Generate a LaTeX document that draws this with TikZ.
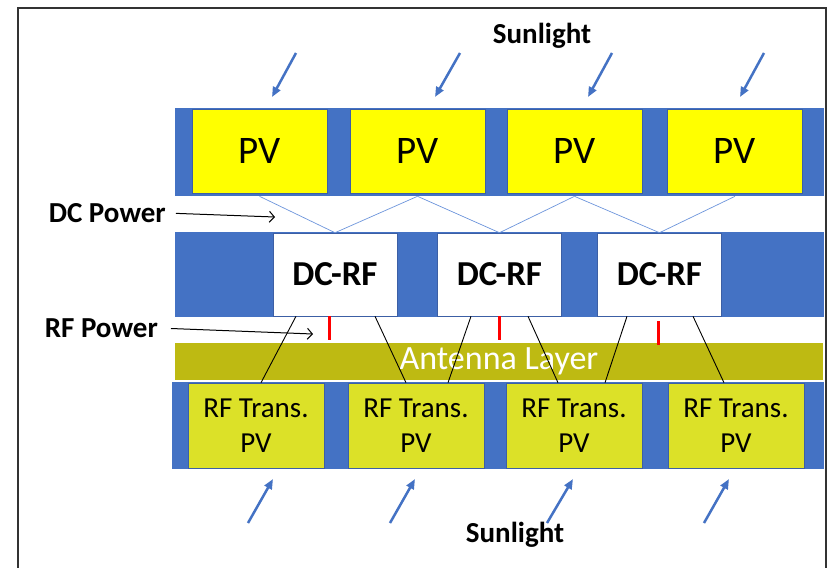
\documentclass[tikz,border=0pt]{standalone}
\usepackage{fontspec}
\setmainfont{Carlito}
\usetikzlibrary{arrows.meta,positioning,calc}
\definecolor{panelblue}{RGB}{68,114,196}
\definecolor{edgeblue}{RGB}{60,95,165}
\definecolor{pvyellow}{RGB}{255,255,0}
\definecolor{rfgreen}{RGB}{220,225,40}
\definecolor{antolive}{RGB}{190,186,18}
\definecolor{wireblue}{RGB}{110,150,220}

\begin{document}
\begin{tikzpicture}[x=1pt,y=-1pt,
    pvbox/.style={draw=edgeblue, line width=0.6pt, fill=pvyellow, minimum width=135pt, minimum height=84pt, inner sep=0pt, font=\fontsize{39}{42}\selectfont},
    convbox/.style={draw=edgeblue, line width=0.6pt, fill=white, minimum width=124pt, minimum height=83pt, inner sep=0pt, font=\fontsize{35}{38}\selectfont\bfseries},
    rfbox/.style={draw=edgeblue, line width=0.6pt, fill=rfgreen, minimum width=136pt, minimum height=85pt, inner sep=0pt, align=center, font=\fontsize{29}{35}\selectfont},
    lab/.style={font=\fontsize{29}{32}\selectfont\bfseries, inner sep=0pt},
    sunray/.style={panelblue, line width=2.5pt, -{Triangle[length=10pt,width=8pt]}},
    ptr/.style={black, line width=1pt, -{Straight Barb[length=5pt,width=11pt]}},
    dcwire/.style={wireblue, line width=0.7pt},
    rfwire/.style={black, line width=0.9pt}]
        \useasboundingbox (0,0) rectangle (831,568);
        \fill[white] (0,0) rectangle (831,568);
        % Moldura
        \draw[line width=1.5pt, black!80] (18,575) -- (18,8) -- (826,8) -- (826,575);

        % Camada PV superior
        \fill[panelblue] (175,108) rectangle (824,196);
        \foreach \i/\x in {1/259.5, 2/417.5, 3/574.5, 4/735} {
            \node[pvbox] (pv\i) at (\x,151) {PV};
        }

        % Camada DC-RF
        \fill[panelblue] (175,232) rectangle (824,317);
        \foreach \i/\x in {1/335, 2/499.5, 3/659.5} {
            \node[convbox] (dcrf\i) at (\x,274.5) {DC-RF};
        }

        % Antena
        \node[fill=antolive, minimum width=648pt, minimum height=37pt, inner sep=0pt,
              text=white, font=\fontsize{34}{38}\selectfont] (ant) at (499,361.5) {Antenna Layer};

        % Camada RF inferior
        \fill[panelblue] (172,382) rectangle (824,469);
        \foreach \i/\x in {1/256, 2/416, 3/574, 4/736} {
            \node[rfbox] (rf\i) at (\x,425.5) {RF Trans.\\PV};
        }

        % Ligações DC
        \foreach \a/\b in {1/1, 2/1, 2/2, 3/2, 3/3, 4/3} {
            \draw[dcwire] ([yshift=-3pt]pv\a.south) -- (dcrf\b.north);
        }

        % Ligações RF
        \draw[rfwire] ([xshift=-39pt]dcrf1.south) -- ([xshift=5pt]rf1.north);
        \draw[rfwire] ([xshift=40pt]dcrf1.south) -- ([xshift=-10pt]rf2.north);
        \draw[rfwire] ([xshift=-28.5pt]dcrf2.south) -- ([xshift=32pt]rf2.north);
        \draw[rfwire] ([xshift=28.5pt]dcrf2.south) -- ([xshift=-16pt]rf3.north);
        \draw[rfwire] ([xshift=-32.5pt]dcrf3.south) -- ([xshift=31pt]rf3.north);
        \draw[rfwire] ([xshift=33.5pt]dcrf3.south) -- ([xshift=-12pt]rf4.north);

        % Saídas RF (vermelho)
        \draw[red, line width=3pt] ([xshift=-6pt]dcrf1.south) -- ++(0,24);
        \draw[red, line width=3pt] ([xshift=-0.5pt]dcrf2.south) -- ++(0,24);
        \draw[red, line width=3pt] ([xshift=-1.5pt,yshift=-5pt]dcrf3.south) -- ++(0,24);

        % Luz solar
        \foreach \xa/\xb in {296/272, 460/435, 612/588, 764/740} {
            \draw[sunray] (\xa,53) -- (\xb,97);
        }
        \foreach \xa/\xb in {248/273, 390/415, 547/573, 704/729} {
            \draw[sunray] (\xa,523) -- (\xb,479);
        }
        \node[lab] (suntop) at (542,36) {Sunlight};
        \node[lab] (sunbot) at (515,535) {Sunlight};

        % Rótulos de potência
        \node[lab, anchor=east] (dcpow) at (166,213) {DC Power};
        \coordinate (dcend) at (275,217);
        \draw[ptr, shorten <=10pt] (dcpow.east) -- (dcend);
        \node[lab, anchor=east] (rfpow) at (158,328) {RF Power};
        \coordinate (rfend) at (313,334);
        \draw[ptr, shorten <=13pt] (rfpow.east) -- (rfend);
    \end{tikzpicture}
\end{document}
